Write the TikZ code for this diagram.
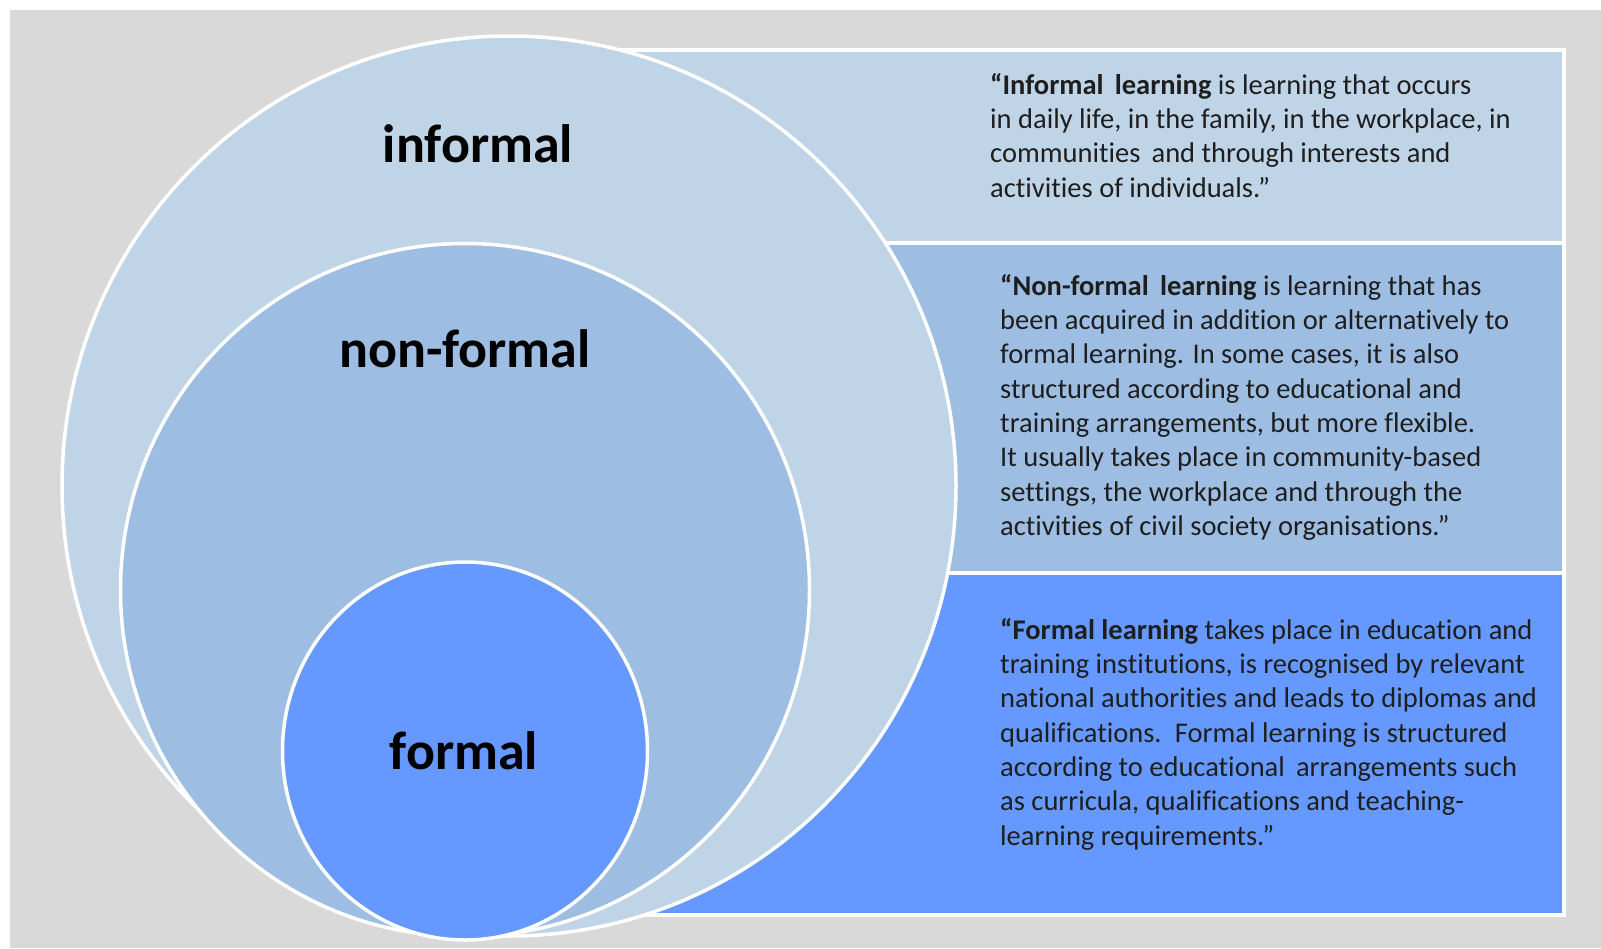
\documentclass[tikz,border=0pt]{standalone}
\usepackage{fontspec}
\setmainfont{Carlito}[Ligatures=NoCommon]
\usetikzlibrary{shapes.geometric}
\definecolor{bggray}{HTML}{D9D9D9}
\definecolor{lightblue}{HTML}{C0D4E8}
\definecolor{midblue}{HTML}{9DBDE2}
\definecolor{strongblue}{HTML}{6699FF}
\definecolor{bodytext}{HTML}{1E1E1E}
\begin{document}
\begin{tikzpicture}[x=1pt,y=-1pt,
  panel/.style={draw=white, line width=3.5pt, rectangle, inner sep=0pt, anchor=north west},
  ring/.style={draw=white, line width=3.5pt, ellipse, inner sep=0pt},
  biglabel/.style={font=\fontsize{54}{60}\selectfont\bfseries, text=black, inner sep=0pt},
  desc/.style={font=\fontsize{28.5}{34.3}\selectfont, text=bodytext, align=left, inner sep=0pt, anchor=north west}]
\useasboundingbox (0,0) rectangle (1601,948);
\fill[white] (0,0) rectangle (1601,948);
\fill[bggray] (10,10) rectangle (1601,948);
% panels
\node[panel, fill=lightblue, minimum width=962pt, minimum height=193pt] (ptop) at (600,48) {};
\node[panel, fill=midblue, minimum width=962pt, minimum height=330pt] (pmid) at (600,241) {};
\node[panel, fill=strongblue, minimum width=962pt, minimum height=342pt] (pbot) at (600,571) {};
% circles
\node[ring, fill=lightblue, minimum width=894pt, minimum height=900pt] (outer) at (509,486) {};
\node[ring, fill=midblue, minimum width=689pt, minimum height=693pt] (middle) at (465,590) {};
\node[ring, fill=strongblue, minimum width=365pt, minimum height=378pt] (inner) at (465,751) {};
% labels
\node[biglabel] (linformal) at (478,144) {informal};
\node[biglabel] (lnonformal) at (465,349) {non-formal};
\node[biglabel] (lformal) at (464,751) {formal};
% descriptions
\node[desc] (tinformal) at (990,73) {\textbf{“Informal\, learning} is learning that occurs\\
in daily life, in the family, in the workplace, in\\
communities \,and through interests and\\
activities of individuals.”};
\node[desc] (tnonformal) at (1000,274) {\textbf{“Non-formal\, learning} is learning that has\\
been acquired in addition or alternatively to\\
formal learning. In some cases, it is also\\
structured according to educational and\\
training arrangements, but more flexible.\\
It usually takes place in community-based\\
settings, the workplace and through the\\
activities of civil society organisations.”};
\node[desc] (tformal) at (1000,618) {\textbf{“Formal learning} takes place in education and\\
training institutions, is recognised by relevant\\
national authorities and leads to diplomas and\\
qualifications. \,Formal learning is structured\\
according to educational \,arrangements such\\
as curricula, qualifications and teaching-\\
learning requirements.”};
\end{tikzpicture}
\end{document}
